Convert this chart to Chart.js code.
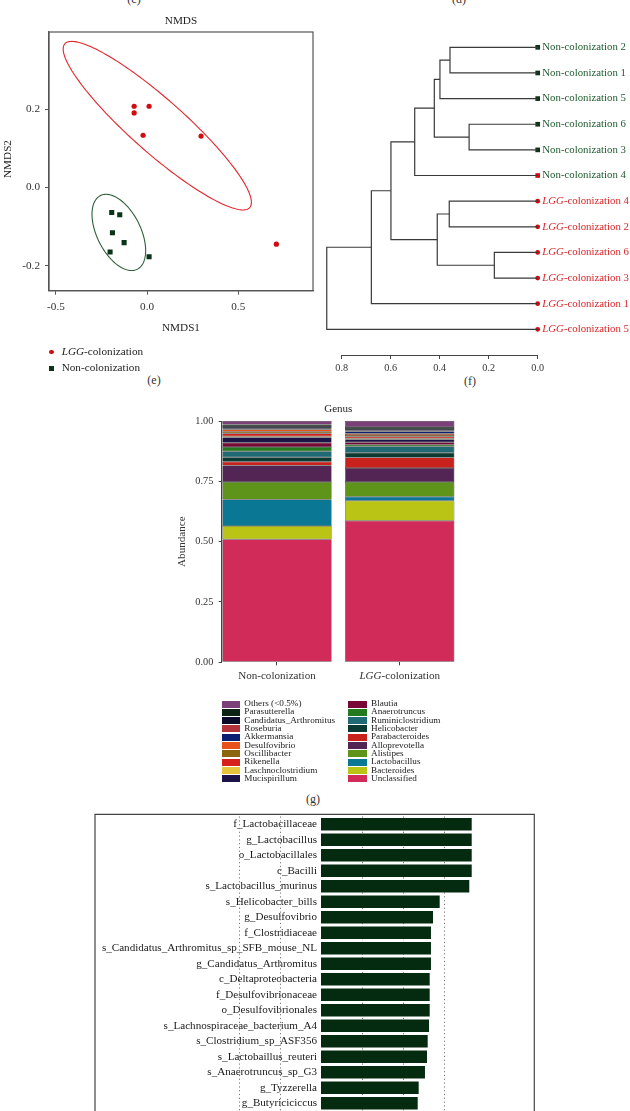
<!DOCTYPE html>
<html><head><meta charset="utf-8">
<script src="https://cdn.jsdelivr.net/npm/chart.js@4.4.1/dist/chart.umd.min.js"></script>
<style>
html,body{margin:0;padding:0;width:630px;height:1111px;overflow:hidden;background:#fff;}
body{position:relative;font-family:'Liberation Serif','Times New Roman',serif;color:#222;}
canvas{position:absolute;display:block;}
.t{position:absolute;white-space:nowrap;line-height:1;transform:translateY(-50%);}
.c{transform:translate(-50%,-50%);}
.sw{position:absolute;}
</style></head><body>

<div class="t c" style="left:134px;top:-1px;font-size:12px;color:#333">(c)</div>
<div class="t c" style="left:459px;top:-1px;font-size:12px;color:#333">(d)</div>
<div class="t c" style="left:154px;top:380px;font-size:12px;color:#333">(e)</div>
<div class="t c" style="left:470px;top:381px;font-size:12px;color:#333">(f)</div>
<div class="t c" style="left:313px;top:799px;font-size:12px;color:#333">(g)</div>

<canvas id="cE" width="320" height="400" style="left:0;top:0"></canvas>
<canvas id="cF" width="320" height="400" style="left:310px;top:0"></canvas>
<canvas id="cG" width="310" height="300" style="left:165px;top:395px"></canvas>
<canvas id="cH" width="630" height="330" style="left:0;top:800px"></canvas>

<div class="sw" style="left:49.4px;top:349.6px;width:4.8px;height:4.8px;border-radius:50%;background:#d00b12"></div>
<div class="t" style="left:61.7px;top:352px;font-size:11.2px;color:#222"><i>LGG</i>-colonization</div>
<div class="sw" style="left:49.2px;top:365.5px;width:5px;height:5px;background:#0b3318"></div>
<div class="t" style="left:61.7px;top:368px;font-size:11.2px;color:#222">Non-colonization</div>

<div id="legG"></div>

<script>
// ================= DATA =================
// (e) NMDS
const nmdsLggX = [-0.071, -0.071, 0.011, -0.022, 0.296, 0.709];
const nmdsLggY = [0.207, 0.190, 0.207, 0.133, 0.131, -0.145];
const nmdsNonX = [-0.194, -0.150, -0.190, -0.126, -0.203, 0.011];
const nmdsNonY = [-0.064, -0.070, -0.116, -0.141, -0.165, -0.177];
const nmdsXTicks = [-0.5, 0.0, 0.5];
const nmdsYTicks = [-0.2, 0.0, 0.2];
// confidence ellipses: centre x, centre y, axis-1 (dx, dy), axis-2 (dx, dy)
const lggEllipse = [0.056, 0.1575, 0.507, -0.209, -0.097, -0.051];
const nonEllipse = [-0.155, -0.115, 0.101, -0.094, -0.107, -0.025];

// (f) dendrogram
const leafLabels = ['Non-colonization 2','Non-colonization 1','Non-colonization 5','Non-colonization 6','Non-colonization 3','Non-colonization 4','LGG-colonization 4','LGG-colonization 2','LGG-colonization 6','LGG-colonization 3','LGG-colonization 1','LGG-colonization 5'];
const leafGroup = ['Non','Non','Non','Non','Non','Non','LGG','LGG','LGG','LGG','LGG','LGG'];
const leafMarkerGroup = ['Non','Non','Non','Non','Non','LGG','LGG','LGG','LGG','LGG','LGG','LGG'];
const mergeA = [0, 'm0', 3, 'm1', 'm3', 6, 8, 'm5', 'm4', 'm8', 'm9'];
const mergeB = [1, 2, 4, 'm2', 5, 7, 9, 'm6', 'm7', 10, 11];
const mergeHeight = [0.358, 0.399, 0.280, 0.422, 0.502, 0.361, 0.177, 0.410, 0.599, 0.679, 0.861];
const dendroTicks = [0.8, 0.6, 0.4, 0.2, 0.0];

// (g) genus stacked bars (bottom to top)
const genusGroups = ['Non-colonization', 'LGG-colonization'];
const genusNames = ['Unclassified','Bacteroides','Lactobacillus','Alistipes','Alloprevotella','Parabacteroides','Helicobacter','Ruminiclostridium','Anaerotruncus','Blautia','Mucispirillum','Laschnoclostridium','Rikenella','Oscillibacter','Desulfovibrio','Akkermansia','Roseburia','Candidatus_Arthromitus','Parasutterella','Others (<0.5%)'];
const genusNonCol = [0.510, 0.055, 0.110, 0.072, 0.069, 0.015, 0.019, 0.025, 0.017, 0.018, 0.022, 0.005, 0.011, 0.007, 0.010, 0.003, 0.003, 0.008, 0.007, 0.014];
const genusLgg    = [0.587, 0.083, 0.016, 0.061, 0.058, 0.044, 0.019, 0.026, 0.008, 0.010, 0.011, 0.005, 0.008, 0.006, 0.006, 0.009, 0.003, 0.007, 0.008, 0.025];
const genusTicks = [0, 0.25, 0.5, 0.75, 1.0];
const genusColors = ['#d12b5a','#b9c414','#0a7894','#5e9419','#532554','#c9221c','#0b3a32','#1f6a74','#24781e','#7a0836','#1c1446','#e6c43c','#d61f1b','#8c6510','#e8501c','#0b1f72','#b2343a','#0a0a28','#0c2212','#7b3f79'];

// (h) LDA scores
const lefseLabels = ['f_Lactobacillaceae','g_Lactobacillus','o_Lactobacillales','c_Bacilli','s_Lactobacillus_murinus','s_Helicobacter_bills','g_Desulfovibrio','f_Clostridiaceae','s_Candidatus_Arthromitus_sp_SFB_mouse_NL','g_Candidatus_Arthromitus','c_Deltaproteobacteria','f_Desulfovibrionaceae','o_Desulfovibrionales','s_Lachnospiraceae_bacterium_A4','s_Clostridium_sp_ASF356','s_Lactobaillus_reuteri','s_Anaerotruncus_sp_G3','g_Tyzzerella','g_Butyriciciccus'];
const lefseScores = [3.667, 3.667, 3.667, 3.667, 3.608, 2.888, 2.725, 2.676, 2.676, 2.676, 2.645, 2.645, 2.645, 2.628, 2.596, 2.579, 2.530, 2.377, 2.353];
const lefseGrid = [-2, -1, 1, 2, 3];

// ================= HELPERS =================
const FONT = "'Liberation Serif', 'Times New Roman', Times, serif";
Chart.defaults.font.family = FONT;
Chart.defaults.color = '#333';
const RED = '#d00b12', DKGREEN = '#0b3318';

function richParts(label) {
  return label.startsWith('LGG') ? [{t:'LGG', i:true}, {t:label.slice(3)}] : [{t:label}];
}
function drawRich(ctx, parts, x, y, align, size, color) {
  ctx.save();
  ctx.fillStyle = color; ctx.textBaseline = 'middle'; ctx.textAlign = 'left';
  const fonts = parts.map(p => (p.i ? 'italic ' : '') + size + 'px ' + FONT);
  let w = 0;
  const ws = parts.map((p, k) => { ctx.font = fonts[k]; const m = ctx.measureText(p.t).width; w += m; return m; });
  let sx = align === 'center' ? x - w / 2 : (align === 'right' ? x - w : x);
  parts.forEach((p, k) => { ctx.font = fonts[k]; ctx.fillText(p.t, sx, y); sx += ws[k]; });
  ctx.restore();
}
function drawRotated(ctx, text, x, y, size, color) {
  ctx.save();
  ctx.translate(x, y); ctx.rotate(-Math.PI / 2);
  ctx.font = size + 'px ' + FONT; ctx.fillStyle = color;
  ctx.textAlign = 'center'; ctx.textBaseline = 'middle';
  ctx.fillText(text, 0, 0);
  ctx.restore();
}
const setTicks = arr => s => { s.ticks = arr.map(v => ({value: v})); };

// ================= (e) NMDS =================
const ellipsePlugin = {
  id: 'ellipses',
  beforeDatasetsDraw(chart) {
    const {ctx, scales: {x, y}} = chart;
    [[lggEllipse, '#e3262b'], [nonEllipse, '#2f5f3a']].forEach(([e, col]) => {
      ctx.save();
      ctx.beginPath();
      for (let k = 0; k <= 180; k++) {
        const t = k / 180 * 2 * Math.PI;
        const dx = e[0] + e[2] * Math.cos(t) + e[4] * Math.sin(t);
        const dy = e[1] + e[3] * Math.cos(t) + e[5] * Math.sin(t);
        const px = x.getPixelForValue(dx), py = y.getPixelForValue(dy);
        if (k === 0) ctx.moveTo(px, py); else ctx.lineTo(px, py);
      }
      ctx.closePath();
      ctx.strokeStyle = col; ctx.lineWidth = 1.1; ctx.stroke();
      ctx.restore();
    });
  },
  afterDraw(chart) {
    const {ctx, chartArea: a} = chart;
    ctx.save();
    ctx.strokeStyle = '#555'; ctx.lineWidth = 1.2;
    ctx.strokeRect(a.left, a.top, a.right - a.left, a.bottom - a.top);
    ctx.restore();
    drawRich(ctx, [{t:'NMDS'}], (a.left + a.right) / 2, 21, 'center', 11.2, '#222');
    drawRich(ctx, [{t:'NMDS1'}], (a.left + a.right) / 2, 328, 'center', 11.2, '#222');
    drawRotated(ctx, 'NMDS2', 8.5, 159, 11.2, '#222');
  }
};

new Chart(document.getElementById('cE'), {
  type: 'scatter',
  data: { datasets: [
    { label: 'LGG-colonization', data: nmdsLggX.map((v, i) => ({x: v, y: nmdsLggY[i]})),
      pointStyle: 'circle', pointRadius: 2.6, backgroundColor: RED, borderWidth: 0 },
    { label: 'Non-colonization', data: nmdsNonX.map((v, i) => ({x: v, y: nmdsNonY[i]})),
      pointStyle: 'rect', pointRadius: 3.6, backgroundColor: DKGREEN, borderWidth: 0 }
  ]},
  options: {
    responsive: false, animation: false, events: [], devicePixelRatio: 1,
    layout: { padding: { top: 32, left: 0, right: 7, bottom: 0 } },
    plugins: { legend: { display: false }, tooltip: { enabled: false } },
    scales: {
      x: { type: 'linear', min: -0.538, max: 0.91, afterBuildTicks: setTicks(nmdsXTicks),
           afterFit: s => { s.height = 109.3; },
           ticks: { font: { size: 11.2 }, color: '#333', padding: 6, callback: v => Number(v).toFixed(1) },
           grid: { drawOnChartArea: false, tickLength: 4, color: '#555' },
           border: { display: true, color: '#555', width: 1.2 } },
      y: { type: 'linear', min: -0.2638, max: 0.3966, afterBuildTicks: setTicks(nmdsYTicks),
           afterFit: s => { s.width = 49; },
           ticks: { font: { size: 11.2 }, color: '#333', padding: 5, callback: v => Number(v).toFixed(1) },
           grid: { drawOnChartArea: false, tickLength: 4, color: '#555' },
           border: { display: true, color: '#555', width: 1.2 } }
    }
  },
  plugins: [ellipsePlugin]
});

// ================= (f) dendrogram =================
const merged = [];
function nodeOf(ref) { return typeof ref === 'number' ? {x: 0, y: ref} : merged[+ref.slice(1)]; }
const treeSets = mergeHeight.map((h, k) => {
  const A = nodeOf(mergeA[k]), B = nodeOf(mergeB[k]);
  merged[k] = {x: h, y: (A.y + B.y) / 2};
  return { data: [{x: A.x, y: A.y}, {x: h, y: A.y}, {x: h, y: B.y}, {x: B.x, y: B.y}],
           showLine: true, pointRadius: 0, borderColor: '#3a3a3a', borderWidth: 1.2, fill: false, clip: false };
});
const markerSet = {
  data: leafLabels.map((_, i) => ({x: 0, y: i})),
  pointStyle: leafGroup.map(g => g === 'Non' ? 'rect' : 'circle'),
  pointRadius: leafGroup.map(g => g === 'Non' ? 3.3 : 2.4),
  backgroundColor: leafMarkerGroup.map(g => g === 'Non' ? DKGREEN : RED),
  borderWidth: 0, clip: false
};
new Chart(document.getElementById('cF'), {
  type: 'scatter',
  data: { datasets: [...treeSets, markerSet] },
  options: {
    responsive: false, animation: false, events: [], devicePixelRatio: 1,
    layout: { padding: { left: 31.7, right: 92.3, top: 34.5, bottom: 0 } },
    plugins: { legend: { display: false }, tooltip: { enabled: false } },
    scales: {
      x: { type: 'linear', reverse: true, min: 0, max: 0.8, afterBuildTicks: setTicks(dendroTicks),
           afterFit: s => { s.height = 45; },
           ticks: { font: { size: 10.2 }, color: '#333', padding: 3.5, callback: v => Number(v).toFixed(1) },
           grid: { drawOnChartArea: false, tickLength: 4, color: '#444' },
           border: { display: true, color: '#444', width: 1 } },
      y: { type: 'linear', reverse: true, min: -0.5, max: 12, display: false }
    }
  },
  plugins: [{
    id: 'leafLabels',
    afterDatasetsDraw(chart) {
      const {ctx, scales: {x, y}} = chart;
      leafLabels.forEach((lab, i) => {
        drawRich(ctx, richParts(lab), x.getPixelForValue(0) + 4.6, y.getPixelForValue(i), 'left', 10.8,
                 leafGroup[i] === 'Non' ? '#1e5a2d' : '#d8262a');
      });
    }
  }]
});

// ================= (g) genus stacked bars =================
new Chart(document.getElementById('cG'), {
  type: 'bar',
  data: { datasets: genusNames.map((g, k) => ({
    label: g, data: [{x: 0, y: genusNonCol[k]}, {x: 1, y: genusLgg[k]}],
    backgroundColor: genusColors[k], borderColor: '#000', borderWidth: 0.5, borderSkipped: false,
    barPercentage: 0.89, categoryPercentage: 1
  })) },
  options: {
    responsive: false, animation: false, events: [], devicePixelRatio: 1,
    layout: { padding: { top: 26, left: 0, right: 20, bottom: 0 } },
    plugins: { legend: { display: false }, tooltip: { enabled: false } },
    scales: {
      x: { type: 'linear', stacked: true, min: -0.45, max: 1.45, offset: false,
           afterBuildTicks: setTicks([0, 1]), afterFit: s => { s.height = 32.7; },
           ticks: { callback: () => '', padding: 0 },
           grid: { drawOnChartArea: false, offset: false, tickLength: 3, color: '#444' },
           border: { display: false } },
      y: { type: 'linear', stacked: true, min: 0, max: 1, afterBuildTicks: setTicks(genusTicks),
           afterFit: s => { s.width = 56.7; },
           ticks: { font: { size: 10.3 }, color: '#333', padding: 5.4, callback: v => Number(v).toFixed(2) },
           grid: { drawOnChartArea: false, tickLength: 3, color: '#444' },
           border: { display: true, color: '#444', width: 1 } }
    }
  },
  plugins: [{
    id: 'genusText',
    afterDraw(chart) {
      const {ctx, chartArea: a, scales: {x}} = chart;
      drawRich(ctx, [{t:'Genus'}], (a.left + a.right) / 2, a.top - 12, 'center', 11, '#222');
      genusGroups.forEach((g, i) => drawRich(ctx, richParts(g), x.getPixelForValue(i), a.bottom + 13.7, 'center', 11.1, '#333'));
      drawRotated(ctx, 'Abundance', 16.7, (a.top + a.bottom) / 2, 11.1, '#333');
    }
  }]
});

// HTML legend for (g), two columns, top of stack first
(function () {
  const box = document.getElementById('legG');
  const order = genusNames.map((n, k) => k).reverse();
  order.forEach((k, j) => {
    const col = Math.floor(j / 10), row = j % 10;
    const cy = 704 + row * 8.33;
    const sx = col === 0 ? 221.7 : 348.3;
    const tx = col === 0 ? 244.3 : 371;
    const sw = document.createElement('div');
    sw.className = 'sw';
    sw.style.cssText = `left:${sx}px;top:${cy - 3.5}px;width:18.3px;height:7px;background:${genusColors[k]}`;
    box.appendChild(sw);
    const tt = document.createElement('div');
    tt.className = 't';
    tt.style.cssText = `left:${tx}px;top:${cy}px;font-size:9.2px;color:#222`;
    tt.textContent = genusNames[k];
    box.appendChild(tt);
  });
})();

// ================= (h) LDA bars =================
new Chart(document.getElementById('cH'), {
  type: 'bar',
  data: { labels: lefseLabels, datasets: [{ data: lefseScores, backgroundColor: '#042a10',
          borderWidth: 0, barPercentage: 0.82, categoryPercentage: 1 }] },
  options: {
    indexAxis: 'y',
    responsive: false, animation: false, events: [], devicePixelRatio: 1,
    layout: { padding: { top: 16.5, left: 0, right: 95.7, bottom: 0 } },
    plugins: { legend: { display: false }, tooltip: { enabled: false } },
    scales: {
      x: { type: 'linear', min: 0, max: 5.19, afterFit: s => { s.height = 19; },
           ticks: { display: false }, grid: { display: false, drawTicks: false }, border: { display: false } },
      y: { afterFit: s => { s.width = 321; },
           ticks: { autoSkip: false, font: { size: 11.1 }, color: '#1a1a1a', padding: 4 },
           grid: { display: false, drawTicks: false, tickLength: 0 }, border: { display: false } }
    }
  },
  plugins: [{
    id: 'lefseFrame',
    beforeDatasetsDraw(chart) {
      const {ctx, chartArea: a, scales: {x}} = chart;
      ctx.save();
      ctx.strokeStyle = '#777'; ctx.lineWidth = 1; ctx.setLineDash([1.2, 2.6]);
      lefseGrid.forEach(v => {
        const px = Math.round(x.getPixelForValue(v)) + 0.5;
        ctx.beginPath(); ctx.moveTo(px, a.top); ctx.lineTo(px, chart.height); ctx.stroke();
      });
      ctx.restore();
    },
    afterDraw(chart) {
      const {ctx, chartArea: a} = chart;
      const top = a.top - 2.2;
      ctx.save();
      ctx.strokeStyle = '#444'; ctx.lineWidth = 1.2;
      ctx.beginPath();
      ctx.moveTo(95, chart.height); ctx.lineTo(95, top); ctx.lineTo(a.right, top); ctx.lineTo(a.right, chart.height);
      ctx.stroke();
      ctx.restore();
    }
  }]
});
</script>
</body></html>
